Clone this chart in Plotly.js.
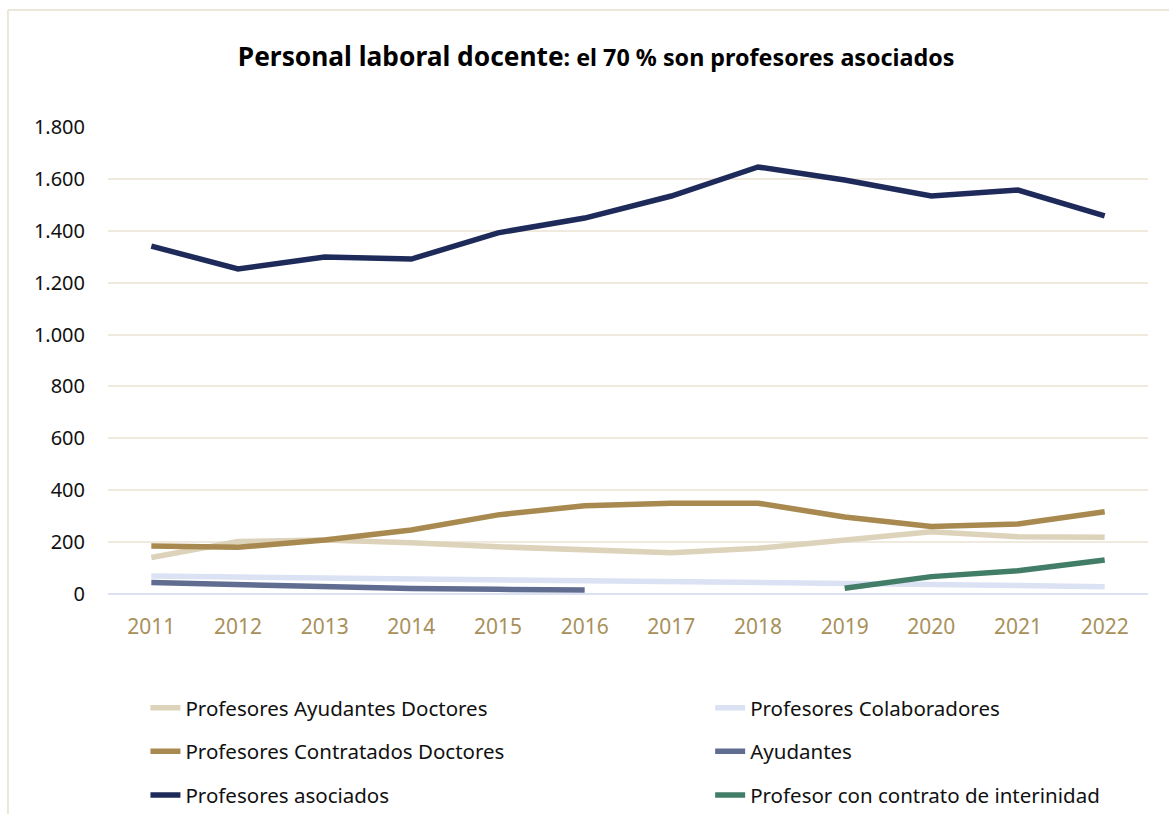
<!DOCTYPE html>
<html>
<head>
<meta charset="utf-8">
<script src="https://cdn.plot.ly/plotly-3.0.1.min.js"></script>
<style>html,body{margin:0;padding:0;background:#fff;}#chart{width:1169px;height:814px;}</style>
</head>
<body>
<div id="chart"></div>
<script>
const years = [2011, 2012, 2013, 2014, 2015, 2016, 2017, 2018, 2019, 2020, 2021, 2022];
const ayudantesDoctores = [141, 202, 208, 198, 182, 172, 159, 176, 208, 240, 221, 219];
const colaboradores = [69, 66, 62, 59, 55, 54, 51, 47, 41, 37, 33, 28];
const contratadosDoctores = [185, 180, 208, 247, 305, 340, 350, 350, 297, 260, 270, 317];
const ayudantes = [44, 37, 26, 21, 18, 15, null, null, null, null, null, null];
const asociados = [1341, 1253, 1299, 1291, 1392, 1449, 1534, 1646, 1596, 1534, 1557, 1457];
const interinidad = [null, null, null, null, null, null, null, null, 22, 67, 90, 131];
const yTicks = [0, 200, 400, 600, 800, 1000, 1200, 1400, 1600, 1800];

function tr(name, y, color, legend, group) {
  return {x: years, y: y, name: name, type: 'scatter', mode: 'lines',
    line: {color: color, width: 5.5}, legend: legend, legendgroup: group,
    connectgaps: false, hoverinfo: 'skip'};
}
const data = [
  tr('Profesores Ayudantes Doctores', ayudantesDoctores, '#ddd3bb', 'legend', 'a'),
  tr('Profesores Colaboradores', colaboradores, '#dbe2f4', 'legend2', 'b'),
  tr('Profesores Contratados Doctores', contratadosDoctores, '#a8894f', 'legend', 'c'),
  tr('Ayudantes', ayudantes, '#606d91', 'legend2', 'd'),
  tr('Profesores asociados', asociados, '#1e2b5a', 'legend', 'e'),
  tr('Profesor con contrato de interinidad', interinidad, '#427d68', 'legend2', 'f')
];
function leg(x) {
  return {orientation: 'v', x: x, xanchor: 'left', y: -0.201, yanchor: 'top',
    bgcolor: 'rgba(0,0,0,0)', traceorder: 'grouped', tracegroupgap: 14,
    font: {family: 'Noto Sans, sans-serif', size: 20.5, color: '#111'}};
}
const layout = {
  width: 1169, height: 814,
  margin: {l: 108, r: 21, t: 127, b: 220, autoexpand: false},
  paper_bgcolor: '#ffffff', plot_bgcolor: '#ffffff',
  separators: ',.',
  showlegend: true,
  title: {
    text: '<b>Personal laboral docente</b><b><span style="font-size:23.3px">: el 70 % son profesores asociados</span></b>',
    x: 0.51, xanchor: 'center', y: 0.93, yanchor: 'middle',
    font: {family: 'Noto Sans, sans-serif', size: 26.3, color: '#000'}
  },
  xaxis: {
    type: 'linear', range: [2010.5, 2022.5], tickvals: years, ticktext: years.map(String),
    showgrid: false, zeroline: false, showline: false, ticks: '',
    ticklabelstandoff: 18,
    tickfont: {family: 'Noto Sans, sans-serif', size: 21, color: '#a8905a'}
  },
  yaxis: {
    range: [0, 1800], tickvals: yTicks, tickformat: ',d',
    showgrid: true, gridcolor: '#efe9de', gridwidth: 2,
    zeroline: true, zerolinecolor: '#d9e1f2', zerolinewidth: 2,
    showline: false, ticks: '', ticklabelstandoff: 22,
    tickfont: {family: 'Noto Sans, sans-serif', size: 20, color: '#111'}
  },
  legend: leg(0.036),
  legend2: leg(0.579),
  shapes: [
    {type: 'line', xref: 'paper', yref: 'paper', x0: -0.0962, x1: 1.03, y0: 1.2505, y1: 1.2505,
      line: {color: '#ede7db', width: 2}},
    {type: 'line', xref: 'paper', yref: 'paper', x0: -0.0962, x1: -0.0962, y0: 1.2505, y1: -0.48,
      line: {color: '#ede7db', width: 2}}
  ]
};
Plotly.newPlot('chart', data, layout, {displayModeBar: false, staticPlot: true});
</script>
</body>
</html>
